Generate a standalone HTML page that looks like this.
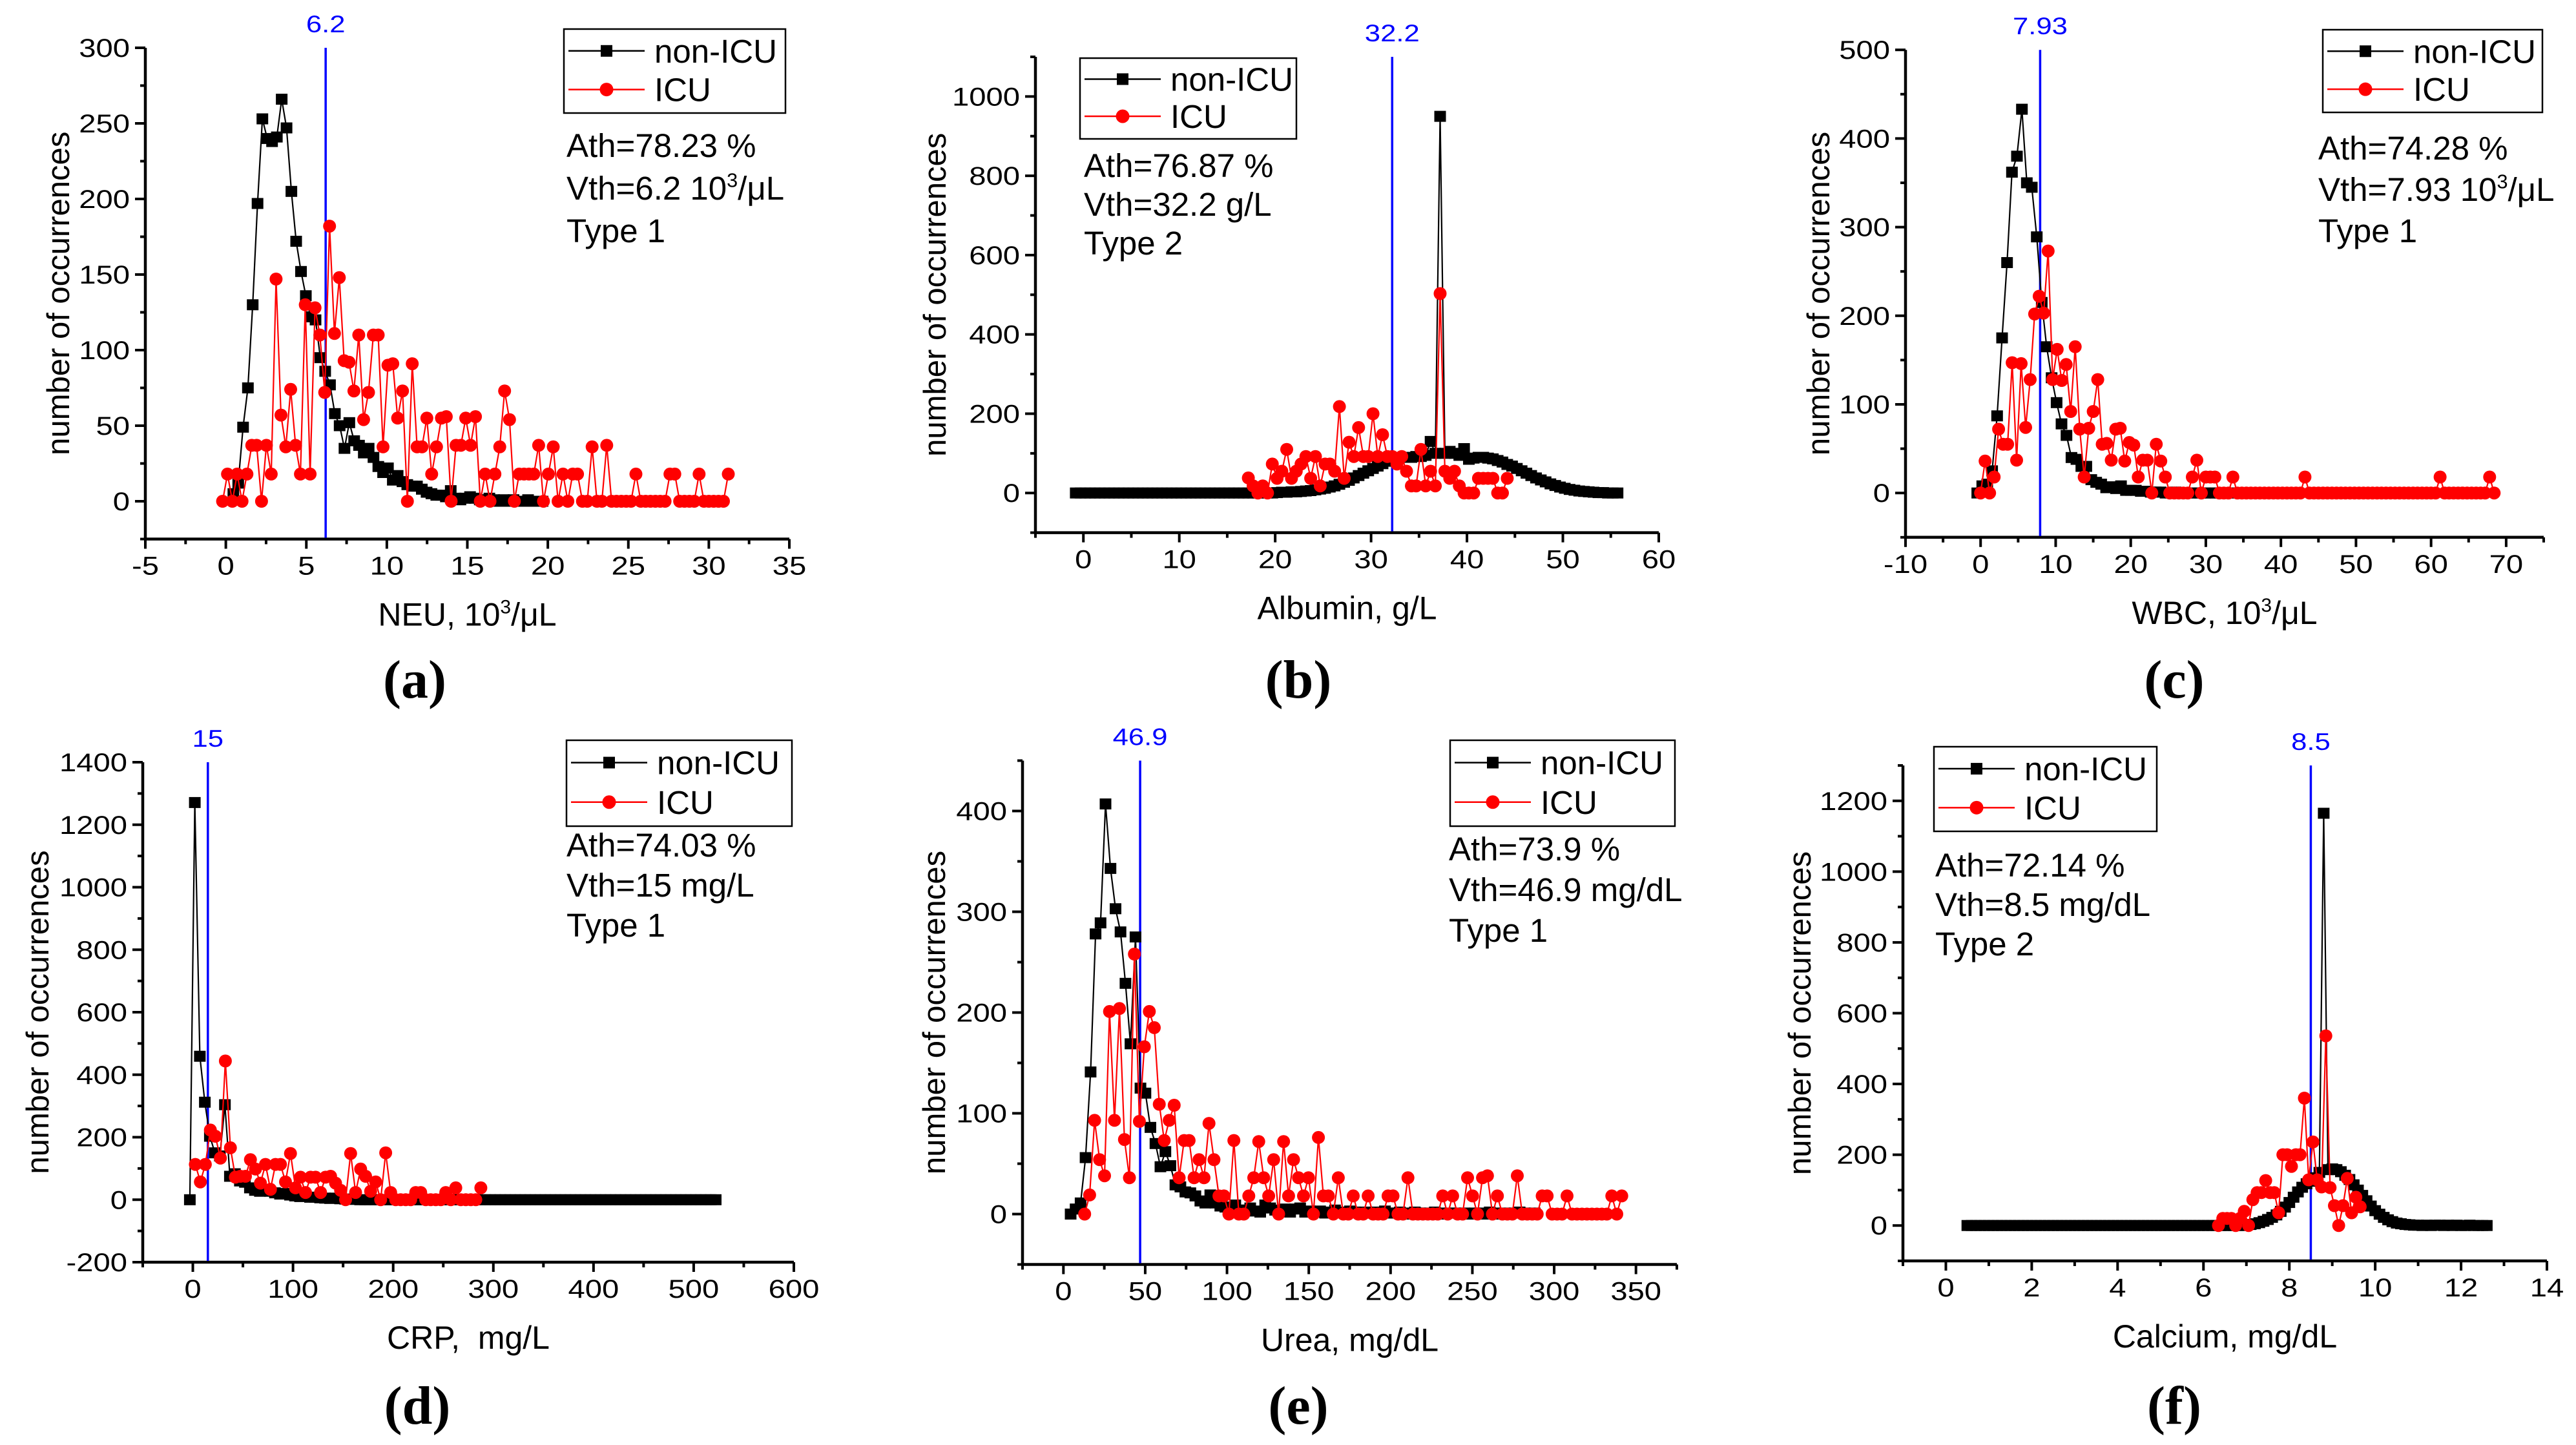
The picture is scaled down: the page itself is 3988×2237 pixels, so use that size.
<!DOCTYPE html>
<html><head><meta charset="utf-8"><title>Histograms non-ICU vs ICU</title>
<style>html,body{margin:0;padding:0;background:#fff;}svg{display:block;}</style></head>
<body>
<svg id="fig" xmlns="http://www.w3.org/2000/svg" width="3988" height="2237" viewBox="0 0 3988 2237">
<rect x="0" y="0" width="3988" height="2237" fill="#fff"/>
</svg>
<script>
// ===== DATA (x bins given by start/step, counts per bin) =====
const neuNonIcuStart = 0.47, neuNonIcuStep = 0.3;
const neuNonIcuValues = [5,12,49,75,130,197,253,240,238,241,266,247,205,172,152,136,122,120,95,86,77,58,50,35,52,40,37,32,35,29,23,19,22,14,17,13,11,10,10,8,6,5,4,4,3,7,2,1,2,3,2,1,1,2,1,0,1,0,1,0,0,1,0,0,0];
const neuIcuStart = -0.2, neuIcuStep = 0.302;
const neuIcuValues = [0,18,0,18,0,18,37,37,0,37,18,147,57,36,74,37,18,130,18,128,110,72,182,111,148,93,92,73,110,54,72,110,110,36,90,91,55,73,0,91,36,36,55,18,36,55,56,0,37,37,55,37,56,0,18,0,18,36,73,54,0,18,18,18,18,37,0,18,36,0,18,0,18,18,0,0,36,0,0,37,0,0,0,0,0,18,0,0,0,0,0,0,18,18,0,0,0,0,18,0,0,0,0,0,18];

const albNonIcuStart = -0.8, albNonIcuStep = 0.5;
const albNonIcuValues = [0,0,0,0,0,0,0,0,0,0,0,0,0,0,0,0,0,0,0,0,0,0,0,0,0,0,0,0,0,0,0,0,0,0,0,0,0,0,0,0,0,0,
1,2,2,3,3,4,5,6,8,10,12,15,18,22,27,32,38,44,50,56,62,68,74,80,85,88,90,90,90,92,92,95,130,100,950,100,105,100,95,112,85,88,90,90,88,86,82,78,72,68,62,56,50,44,38,33,28,23,19,15,12,9,7,5,4,3,2,1,1,0,0,0];
const albIcuStart = 17.2, albIcuStep = 0.5;
const albIcuValues = [38,18,0,18,0,73,37,55,110,37,55,73,92,37,92,18,73,73,55,218,37,128,92,165,92,92,200,92,147,92,92,73,92,55,18,18,110,18,55,18,503,55,37,55,18,0,0,0,37,37,37,37,0,0,37];

const wbcNonIcuStart = -0.44, wbcNonIcuStep = 0.66;
const wbcNonIcuValues = [0,8,10,25,87,175,260,362,380,433,350,345,289,215,165,130,102,78,65,40,38,30,30,15,12,10,6,7,5,8,3,3,3,2,2,1,1,1,0,0,1,0,0,0,0,0,0,0,0,0,0,0,0,0,0,0,0];
const wbcIcuStart = 0, wbcIcuStep = 0.6;
const wbcIcuValues = [0,36,0,18,72,55,55,147,37,146,74,128,202,222,203,273,128,162,127,145,92,165,72,18,73,92,128,55,56,37,72,73,36,57,54,18,37,37,0,55,36,18,0,0,0,0,0,18,37,0,18,18,18,0,0,0,18,0,0,0,0,0,0,0,0,0,0,0,0,0,0,0,18,0,0,0,0,0,0,0,0,0,0,0,0,0,0,0,0,0,0,0,0,0,0,0,0,0,0,0,0,0,18,0,0,0,0,0,0,0,0,0,0,18,0];

const crpNonIcuStart = -3, crpNonIcuStep = 5;
const crpNonIcuValues = [0,1271,459,312,203,150,140,304,75,83,60,56,38,30,27,30,27,22,18,20,15,12,10,12,8,8,6,5,4,5,3,2,2,1,
0,0,0,0,0,0,0,0,0,0,0,0,0,0,0,0,0,0,0,0,0,0,0,0,0,0,0,0,0,0,0,0,0,0,0,0,0,0,0,0,0,0,0,0,0,0,0,0,0,0,0,0,0,0,0,0,0,0,0,0,0,0,
0,0,0,0,0,0,0,0,0,0];
const crpIcuStart = 2.5, crpIcuStep = 5;
const crpIcuValues = [113,57,113,223,203,133,444,166,72,75,75,128,98,53,113,33,113,113,57,148,38,72,23,72,72,23,72,75,53,30,0,148,23,98,75,27,57,0,150,23,0,0,0,0,23,23,0,0,0,0,23,0,38,0,0,0,0,38];

const ureaNonIcuStart = 4.4, ureaNonIcuStep = 3.05;
const ureaNonIcuValues = [0,5,11,56,141,278,289,407,343,303,280,229,169,275,125,120,86,70,47,62,48,29,27,22,21,18,13,11,19,11,8,7,6,9,4,4,6,3,2,9,6,4,3,5,2,5,6,2,3,2,3,1,2,4,2,1,3,2,1,2,1,2,1,3,1,1,2,1,0,2,1,1,0,2,1,0,1,1,0,1,0,1,1,0,2,1,0,1,0,1,2,1,0,1];
const ureaIcuStart = 13, ureaIcuStep = 3.04;
const ureaIcuValues = [0,19,93,54,38,201,93,204,74,36,258,92,166,201,185,109,73,93,108,36,73,73,36,54,36,90,54,18,18,0,73,0,0,18,36,72,36,18,54,0,72,18,54,36,18,36,0,76,18,18,0,36,0,0,18,0,0,18,0,0,0,18,18,0,0,36,0,0,0,0,0,0,18,0,18,0,0,36,18,0,36,38,0,18,0,0,0,38,0,0,0,0,18,18,0,0,0,18,0,0,0,0,0,0,0,0,18,0,18];

const caNonIcuStart = 0.5, caNonIcuStep = 0.1;
const caNonIcuValues = [0,0,0,0,0,0,0,0,0,0,0,0,0,0,0,0,0,0,0,0,0,0,0,0,0,0,0,0,0,0,0,0,0,0,0,0,0,0,0,0,0,0,0,0,0,0,0,0,0,0,0,0,0,0,0,0,0,0,0,0,0,0,0,0,0,
2,3,5,8,12,17,23,30,40,52,65,80,95,108,118,125,135,150,1165,158,160,158,152,142,130,115,100,85,70,55,42,32,23,16,11,7,5,3,2,1,1,
0,1,0,1,1,0,1,0,1,0,0,1,0,0,0,0];
const caIcuStart = 6.35, caIcuStep = 0.1;
const caIcuValues = [0,20,20,20,0,20,40,0,73,93,93,127,93,93,36,200,200,167,200,200,360,129,236,129,109,536,107,56,0,56,133,36,80,53];

const thresholdValues = [6.2, 32.2, 7.93, 15, 46.9, 8.5];
const thresholdLabels = ['6.2', '32.2', '7.93', '15', '46.9', '8.5'];
const athTexts = ['Ath=78.23 %', 'Ath=76.87 %', 'Ath=74.28 %', 'Ath=74.03 %', 'Ath=73.9 %', 'Ath=72.14 %'];
const vthTexts = ['Vth=6.2 10^3/μL', 'Vth=32.2 g/L', 'Vth=7.93 10^3/μL', 'Vth=15 mg/L', 'Vth=46.9 mg/dL', 'Vth=8.5 mg/dL'];
const typeTexts = ['Type 1', 'Type 2', 'Type 1', 'Type 1', 'Type 1', 'Type 2'];
const xTitles = ['NEU, 10^3/μL', 'Albumin, g/L', 'WBC, 10^3/μL', 'CRP,\u00a0\u00a0mg/L', 'Urea, mg/dL', 'Calcium, mg/dL'];
const panelLetters = ['(a)', '(b)', '(c)', '(d)', '(e)', '(f)'];
const seriesNames = ['non-ICU', 'ICU'];

// ===== LAYOUT =====
const panels = [
 {key:'neu', xmin:-5, xmax:35, px0:225, px1:1222, ymin:-25, ymax:300, py0:834.5, py1:74,
  xMajor:5, xMinor:2.5, xLabMin:-5, xLabMax:35, yMajor:50, yMinor:25, yLabMin:0, yLabMax:300,
  legend:[873,45,343,130], stats:[877,243,66], yTitleX:107, labX:642, labY:1080,
  nonIcu:[neuNonIcuStart, neuNonIcuStep, neuNonIcuValues], icu:[neuIcuStart, neuIcuStep, neuIcuValues]},
 {key:'albumin', xmin:-5, xmax:60, px0:1603, px1:2568, ymin:-100, ymax:1100, py0:824.6, py1:88,
  xMajor:10, xMinor:5, xLabMin:0, xLabMax:60, yMajor:200, yMinor:100, yLabMin:0, yLabMax:1000,
  legend:[1672,90,335,125], stats:[1678,274,60], yTitleX:1464, labX:2010, labY:1080,
  nonIcu:[albNonIcuStart, albNonIcuStep, albNonIcuValues], icu:[albIcuStart, albIcuStep, albIcuValues]},
 {key:'wbc', xmin:-10, xmax:75, px0:2950, px1:3938, ymin:-50, ymax:500, py0:831.8, py1:77.2,
  xMajor:10, xMinor:5, xLabMin:-10, xLabMax:70, yMajor:100, yMinor:50, yLabMin:0, yLabMax:500,
  legend:[3596,46,340,128], stats:[3589,247,64], yTitleX:2832, labX:3366, labY:1080,
  nonIcu:[wbcNonIcuStart, wbcNonIcuStep, wbcNonIcuValues], icu:[wbcIcuStart, wbcIcuStep, wbcIcuValues]},
 {key:'crp', xmin:-50, xmax:600, px0:221, px1:1229, ymin:-200, ymax:1400, py0:1954, py1:1180,
  xMajor:100, xMinor:50, xLabMin:0, xLabMax:600, yMajor:200, yMinor:100, yLabMin:-200, yLabMax:1400,
  legend:[877,1146,349,133], stats:[877,1326,62], yTitleX:75, labX:646, labY:2204,
  nonIcu:[crpNonIcuStart, crpNonIcuStep, crpNonIcuValues], icu:[crpIcuStart, crpIcuStep, crpIcuValues]},
 {key:'urea', xmin:-25, xmax:375, px0:1583, px1:2596, ymin:-50, ymax:450, py0:1957.5, py1:1177.5,
  xMajor:50, xMinor:25, xLabMin:0, xLabMax:350, yMajor:100, yMinor:50, yLabMin:0, yLabMax:400,
  legend:[2245,1146,348,133], stats:[2243,1332,63], yTitleX:1463, labX:2010, labY:2204,
  nonIcu:[ureaNonIcuStart, ureaNonIcuStep, ureaNonIcuValues], icu:[ureaIcuStart, ureaIcuStep, ureaIcuValues]},
 {key:'calcium', xmin:-1, xmax:14, px0:2946, px1:3943, ymin:-100, ymax:1300, py0:1952, py1:1185,
  xMajor:2, xMinor:1, xLabMin:0, xLabMax:14, yMajor:200, yMinor:100, yLabMin:0, yLabMax:1200,
  legend:[2994,1156,345,131], stats:[2996,1357,61], yTitleX:2803, labX:3366, labY:2204,
  nonIcu:[caNonIcuStart, caNonIcuStep, caNonIcuValues], icu:[caIcuStart, caIcuStep, caIcuValues]}
];

const NS = 'http://www.w3.org/2000/svg';
const svg = document.getElementById('fig');
const SANS = '"Liberation Sans", Arial, sans-serif';

function el(tag, parent) {
  const e = document.createElementNS(NS, tag);
  parent.appendChild(e);
  return e;
}
function fillText(t, str, size) {
  const parts = str.split('^');
  const first = document.createElementNS(NS, 'tspan');
  first.textContent = parts[0];
  t.appendChild(first);
  for (let i = 1; i < parts.length; i++) {
    const sup = document.createElementNS(NS, 'tspan');
    sup.setAttribute('font-size', (size * 0.6).toFixed(1));
    sup.setAttribute('dy', (-size * 0.38).toFixed(1));
    sup.textContent = parts[i].charAt(0);
    t.appendChild(sup);
    const rest = document.createElementNS(NS, 'tspan');
    rest.setAttribute('dy', (size * 0.38).toFixed(1));
    rest.textContent = parts[i].slice(1);
    t.appendChild(rest);
  }
}
function text(parent, str, x, y, size, anchor, opts) {
  opts = opts || {};
  const t = el('text', parent);
  t.setAttribute('x', 0);
  t.setAttribute('y', 0);
  t.setAttribute('font-size', size);
  t.setAttribute('font-family', opts.family || SANS);
  if (opts.weight) t.setAttribute('font-weight', opts.weight);
  t.setAttribute('text-anchor', anchor);
  t.setAttribute('fill', opts.fill || '#000');
  let tr = 'translate(' + x + ',' + y + ')';
  if (opts.sx) tr += ' scale(' + opts.sx + ',1)';
  if (opts.rot) tr += ' rotate(' + opts.rot + ')';
  t.setAttribute('transform', tr);
  fillText(t, str, size);
  return t;
}
function line(parent, x1, y1, x2, y2, stroke, w) {
  const l = el('line', parent);
  l.setAttribute('x1', x1); l.setAttribute('y1', y1);
  l.setAttribute('x2', x2); l.setAttribute('y2', y2);
  l.setAttribute('stroke', stroke); l.setAttribute('stroke-width', w);
  return l;
}
function fmt(v) { return String(Math.round(v * 1000) / 1000); }
function isMult(v, step) { const r = v / step; return Math.abs(r - Math.round(r)) < 1e-6; }

panels.forEach((p, pi) => {
  const g = el('g', svg);
  
  
  const X = v => p.px0 + (v - p.xmin) / (p.xmax - p.xmin) * (p.px1 - p.px0);
  const Y = v => p.py0 + (v - p.ymin) / (p.ymax - p.ymin) * (p.py1 - p.py0);

  const ax = el('g', g);
  
  
  const yl = line(ax, p.px0, p.py0 + 2, p.px0, p.py1, '#000', 4.5);
  
  
  const xl = line(ax, p.px0 - 2, p.py0, p.px1, p.py0, '#000', 4.5);
  
  

  const nx = Math.round((p.xmax - p.xmin) / p.xMinor);
  for (let i = 0; i <= nx; i++) {
    const v = p.xmin + i * p.xMinor;
    const major = isMult(v, p.xMajor);
    const tk = line(ax, X(v), p.py0, X(v), p.py0 + (major ? 15 : 8), '#000', 4);
    
    
    if (major && v >= p.xLabMin - 1e-9 && v <= p.xLabMax + 1e-9) {
      const lb = text(ax, fmt(v), X(v), p.py0 + 55, 40, 'middle', {sx: 1.18});
      
      
    }
  }
  const ny = Math.round((p.ymax - p.ymin) / p.yMinor);
  for (let i = 0; i <= ny; i++) {
    const v = p.ymin + i * p.yMinor;
    const major = isMult(v, p.yMajor);
    const tk = line(ax, p.px0, Y(v), p.px0 - (major ? 16 : 8), Y(v), '#000', 4);
    
    
    if (major && v >= p.yLabMin - 1e-9 && v <= p.yLabMax + 1e-9) {
      const lb = text(ax, fmt(v), p.px0 - 24, Y(v) + 14, 40, 'end', {sx: 1.18});
      
      
    }
  }
  const xt = text(g, xTitles[pi], (p.px0 + p.px1) / 2, p.py0 + 134, 50, 'middle');
  
  
  const yt = text(g, 'number of occurrences', p.yTitleX, (p.py0 + p.py1) / 2, 49, 'middle', {rot: -90});
  
  

  const th = thresholdValues[pi];
  const tl = line(g, X(th), p.py1, X(th), p.py0 - 2, '#0000ff', 3.5);
  
  
  const tlab = text(g, thresholdLabels[pi], X(th), p.py1 - 24, 37, 'middle', {sx: 1.18, fill: '#0000ff'});
  
  

  function series(def, color, kind, name) {
    const sg = el('g', g);
    
    
    const start = def[0], step = def[1], vals = def[2];
    const pts = vals.map((v, i) => [X(start + i * step), Y(v)]);
    const pl = el('polyline', sg);
    pl.setAttribute('points', pts.map(q => q[0].toFixed(1) + ',' + q[1].toFixed(1)).join(' '));
    pl.setAttribute('fill', 'none');
    pl.setAttribute('stroke', color);
    pl.setAttribute('stroke-width', 2.2);
    
    
    pts.forEach(q => {
      let m;
      if (kind === 'square') {
        m = el('rect', sg);
        m.setAttribute('x', (q[0] - 9).toFixed(1));
        m.setAttribute('y', (q[1] - 8.5).toFixed(1));
        m.setAttribute('width', 18);
        m.setAttribute('height', 17);
      } else {
        m = el('circle', sg);
        m.setAttribute('cx', q[0].toFixed(1));
        m.setAttribute('cy', q[1].toFixed(1));
        m.setAttribute('r', 10);
      }
      m.setAttribute('fill', color);
      
      
    });
  }
  series(p.nonIcu, '#000000', 'square', 'non-icu-series');
  series(p.icu, '#ff0000', 'circle', 'icu-series');

  const lg = el('g', g);
  
  
  const [bx, by, bw, bh] = p.legend;
  const box = el('rect', lg);
  box.setAttribute('x', bx); box.setAttribute('y', by);
  box.setAttribute('width', bw); box.setAttribute('height', bh);
  box.setAttribute('fill', '#fff'); box.setAttribute('stroke', '#000'); box.setAttribute('stroke-width', 2.5);
  
  
  [0, 1].forEach(k => {
    const ry = by + bh * (k === 0 ? 0.26 : 0.72);
    const color = k === 0 ? '#000' : '#ff0000';
    const ls = line(lg, bx + 7, ry, bx + 125, ry, color, 2.5);
    
    
    let m;
    if (k === 0) {
      m = el('rect', lg);
      m.setAttribute('x', bx + 57); m.setAttribute('y', ry - 9);
      m.setAttribute('width', 18); m.setAttribute('height', 18);
    } else {
      m = el('circle', lg);
      m.setAttribute('cx', bx + 66); m.setAttribute('cy', ry); m.setAttribute('r', 10.5);
    }
    m.setAttribute('fill', color);
    
    
    const lt = text(lg, seriesNames[k], bx + 140, ry + 18, 51, 'start');
    
    
  });

  const [sx0, sy0, sdy] = p.stats;
  const s1 = text(g, athTexts[pi], sx0, sy0, 51, 'start');
  
  
  const s2 = text(g, vthTexts[pi], sx0, sy0 + sdy, 51, 'start');
  
  
  const s3 = text(g, typeTexts[pi], sx0, sy0 + 2 * sdy, 51, 'start');
  
  

  const pl = text(g, panelLetters[pi], p.labX, p.labY, 84, 'middle', {family: '"Liberation Serif", "Times New Roman", serif', weight: 'bold'});
  
  
});
</script>
</body></html>
